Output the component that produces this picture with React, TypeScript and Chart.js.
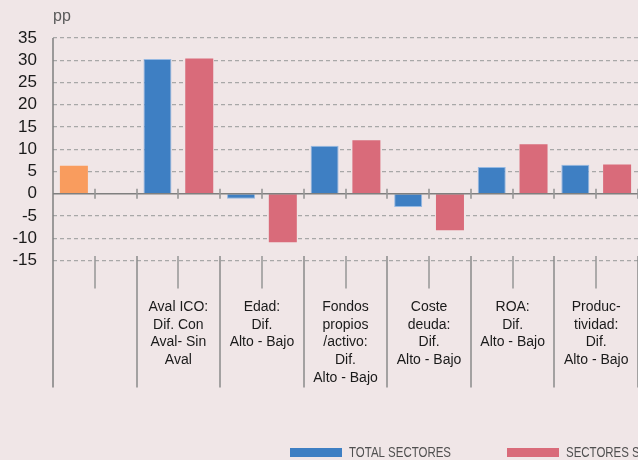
import React, { useEffect, useRef } from "react";
import { Chart, registerables } from "chart.js";

Chart.register(...registerables);

// ---- data ----
const categories: string[] = [
  "Total", "",
  "Aval ICO total", "Aval ICO sect.",
  "Edad total", "Edad sect.",
  "Fondos total", "Fondos sect.",
  "Coste total", "Coste sect.",
  "ROA total", "ROA sect.",
  "Productividad total", "Productividad sect.",
];
const totalEconomia: (number | null)[] = [6.3, null, null, null, null, null, null, null, null, null, null, null, null, null];
const totalSectores: (number | null)[] = [null, null, 30.3, null, -1.1, null, 10.8, null, -3.0, null, 6.0, null, 6.5, null];
const sectoresS: (number | null)[] = [null, null, null, 30.4, null, -10.9, null, 12.0, null, -8.2, null, 11.1, null, 6.6];
const groupLabels: string[][] = [
  [],
  ["Aval ICO:", "Dif. Con", "Aval- Sin", "Aval"],
  ["Edad:", "Dif.", "Alto - Bajo"],
  ["Fondos", "propios", "/activo:", "Dif.", "Alto - Bajo"],
  ["Coste", "deuda:", "Dif.", "Alto - Bajo"],
  ["ROA:", "Dif.", "Alto - Bajo"],
  ["Produc-", "tividad:", "Dif.", "Alto - Bajo"],
];
const yMin = -15;
const yMax = 35;
const yStep = 5;
const unitLabel = "pp";
const legendLabels = ["TOTAL SECTORES", "SECTORES S"];

const ORANGE = "#F99C5E";
const BLUE = "#3E7FC3";
const RED = "#D96B7A";
const BG = "#F0E6E7";
const FONT = "'Liberation Sans', Arial, Helvetica, sans-serif";

const decorPlugin = {
  id: "decor",
  afterDatasetsDraw(chart: any) {
    const ctx = chart.ctx as CanvasRenderingContext2D;
    const xs = chart.scales.x;
    const ys = chart.scales.y;
    const area = chart.chartArea;
    const n = categories.length;
    const slot = xs.getPixelForValue(1) - xs.getPixelForValue(0);
    const boundary = (i: number) => xs.getPixelForValue(i) - slot / 2;
    const y0 = ys.getPixelForValue(0);

    ctx.save();
    // zero line
    ctx.strokeStyle = "#7f7f7f";
    ctx.lineWidth = 1.5;
    ctx.beginPath();
    ctx.moveTo(area.left, y0);
    ctx.lineTo(area.right, y0);
    ctx.stroke();
    // ticks on zero line
    ctx.strokeStyle = "rgba(150,150,150,0.8)";
    ctx.lineWidth = 2;
    for (let i = 1; i <= n; i++) {
      const bx = Math.round(boundary(i));
      ctx.beginPath();
      ctx.moveTo(bx, y0 - 5);
      ctx.lineTo(bx, y0 + 5);
      ctx.stroke();
    }
    // left axis
    ctx.strokeStyle = "#7f7f7f";
    ctx.lineWidth = 1.5;
    ctx.beginPath();
    ctx.moveTo(area.left, area.top);
    ctx.lineTo(area.left, area.bottom + 127);
    ctx.stroke();
    // lower category ticks and group separators
    for (let i = 1; i <= n; i++) {
      const bx = Math.round(boundary(i));
      ctx.beginPath();
      if (i % 2 === 0) {
        ctx.strokeStyle = "#8a8a8a";
        ctx.lineWidth = 1.5;
        ctx.moveTo(bx, area.bottom - 4.5);
        ctx.lineTo(bx, area.bottom + 127);
      } else {
        ctx.strokeStyle = "rgba(150,150,150,0.75)";
        ctx.lineWidth = 2;
        ctx.moveTo(bx, area.bottom - 4.5);
        ctx.lineTo(bx, area.bottom + 28);
      }
      ctx.stroke();
    }
    // group labels
    ctx.fillStyle = "#1a1a1a";
    ctx.font = `14px ${FONT}`;
    ctx.textAlign = "center";
    ctx.textBaseline = "middle";
    groupLabels.forEach((lines, g) => {
      const cx = boundary(2 * g + 1);
      lines.forEach((line, k) => {
        ctx.fillText(line, cx, area.bottom + 46.5 + k * 17.7);
      });
    });
    // unit label
    ctx.fillStyle = "#5a5a5a";
    ctx.font = `16px ${FONT}`;
    ctx.textAlign = "left";
    ctx.fillText(unitLabel, area.left, 17);

    // legend
    const legendColors = [BLUE, RED];
    const boxX = [290, 507];
    const legendY = 452.5;
    legendLabels.forEach((lab, i) => {
      ctx.fillStyle = legendColors[i];
      ctx.fillRect(boxX[i], legendY - 4.5, 52, 9);
      ctx.save();
      ctx.translate(boxX[i] + 59, legendY);
      ctx.scale(0.74, 1);
      ctx.fillStyle = "#505050";
      ctx.font = `15.5px ${FONT}`;
      ctx.textAlign = "left";
      ctx.textBaseline = "middle";
      ctx.fillText(lab, 0, 0);
      ctx.restore();
    });
    ctx.restore();
  },
};

export default function App() {
  const ref = useRef<HTMLCanvasElement | null>(null);
  useEffect(() => {
    if (!ref.current) return;
    const chart = new Chart(ref.current, {
      type: "bar",
      data: {
        labels: categories,
        datasets: [
          { label: "TOTAL", data: totalEconomia, backgroundColor: ORANGE, borderWidth: 0 },
          { label: legendLabels[0], data: totalSectores, backgroundColor: BLUE, borderColor: "rgba(140,180,225,0.9)", borderWidth: 1 },
          { label: legendLabels[1], data: sectoresS, backgroundColor: RED, borderWidth: 0 },
        ],
      },
      options: {
        animation: false,
        responsive: false,
        devicePixelRatio: 1,
        layout: { padding: { top: 38, left: 0, right: 0, bottom: 0 } },
        datasets: { bar: { grouped: false, categoryPercentage: 1, barPercentage: 0.67 } },
        plugins: { legend: { display: false }, tooltip: { enabled: false } },
        scales: {
          x: {
            type: "category",
            grid: { display: false },
            border: { display: false },
            ticks: { display: false },
            afterFit: (s: any) => { s.height = 199.5; },
          },
          y: {
            min: yMin,
            max: yMax,
            ticks: {
              stepSize: yStep,
              autoSkip: false,
              color: "#1a1a1a",
              font: { family: FONT, size: 17 },
              padding: 16,
            },
            grid: {
              drawTicks: false,
              color: (c: any) => (c.tick && c.tick.value === 0 ? "rgba(0,0,0,0)" : "#a8a8a8"),
              lineWidth: 1.2,
            },
            border: { display: false, dash: [4, 3] },
            afterFit: (s: any) => { s.width = 53; },
          },
        },
      },
      plugins: [decorPlugin],
    });
    return () => chart.destroy();
  }, []);
  return (
    <div style={{ position: "fixed", left: 0, top: 0, width: 638, height: 460, background: BG, overflow: "hidden" }}>
      <canvas ref={ref} width={638} height={460} style={{ display: "block" }} />
    </div>
  );
}
